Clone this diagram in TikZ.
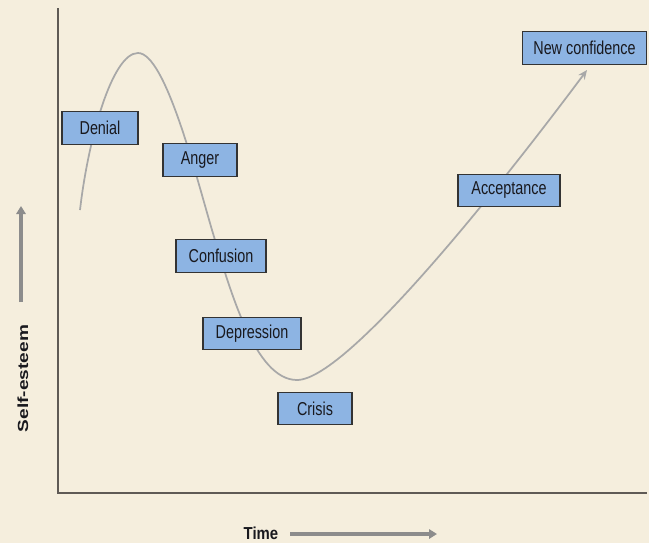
\documentclass[tikz,border=0pt]{standalone}
\usepackage{fontspec}
\setmainfont{Liberation Sans}
\newfontfamily\boxfont[FakeStretch=0.77]{Liberation Sans}
\newfontfamily\timefont[FakeStretch=0.86]{Liberation Sans}
\newfontfamily\selffont[FakeStretch=1.3]{Liberation Sans}
\usetikzlibrary{arrows.meta}
\definecolor{paper}{RGB}{245,238,221}
\definecolor{boxblue}{RGB}{141,180,227}
\definecolor{axisgray}{RGB}{95,90,85}
\definecolor{curvegray}{RGB}{168,168,168}
\definecolor{arrowgray}{RGB}{140,140,140}
\definecolor{textdark}{RGB}{25,25,30}
\tikzset{
  stage/.style={draw=black!80, line width=0.9pt, fill=boxblue, minimum height=24.5pt, inner sep=0pt, text=textdark, font=\boxfont\fontsize{14}{16}\selectfont},
  axisline/.style={draw=axisgray, line width=1.4pt},
  curveline/.style={draw=curvegray, line width=1.3pt},
  dirarrow/.style={draw=arrowgray, line width=2.6pt, -{Triangle[length=6pt,width=7pt]}},
}
\begin{document}
\begin{tikzpicture}[x=0.75pt,y=-0.75pt]
\fill[paper] (0,0) rectangle (649,543);
\useasboundingbox (0,0) rectangle (649,543);
% axes
\coordinate (ytop) at (58,8);
\coordinate (origin) at (58,493);
\coordinate (xend) at (647,493);
\draw[axisline] (ytop) -- (origin) -- (xend);
% curve
\draw[curveline, -{Stealth[length=7pt,width=6pt]}]
  (80,210) .. controls (88,140) and (112,53) .. (138,53)
  .. controls (165,53) and (195,172) .. (212,230)
  .. controls (230,290) and (255,380) .. (297,380)
  .. controls (350,380) and (520,160) .. (587,70);
% boxes
\node[stage, minimum width=57pt] (denial) at (100,128) {Denial};
\node[stage, minimum width=55.5pt] (anger) at (200,160) {Anger};
\node[stage, minimum width=67.5pt] (confusion) at (221,256) {Confusion};
\node[stage, minimum width=73.5pt] (depression) at (252,333.5) {Depression};
\node[stage, minimum width=55.5pt] (crisis) at (315,408.5) {Crisis};
\node[stage, minimum width=76.5pt] (acceptance) at (509,190.5) {Acceptance};
\node[stage, minimum width=93.5pt] (newconf) at (584.5,48) {New confidence};
% axis labels
\node[font=\timefont\bfseries\fontsize{13}{15}\selectfont, text=textdark, inner sep=0pt] (time) at (261,533) {Time};
\coordinate (ta) at (290,534);
\coordinate (tb) at (437,534);
\draw[dirarrow] (ta) -- (tb);
\node[font=\selffont\bfseries\fontsize{11}{13}\selectfont, rotate=90, text=textdark] (self) at (23,378.5) {Self-esteem};
\coordinate (sa) at (21,302);
\coordinate (sb) at (21,206);
\draw[dirarrow] (sa) -- (sb);
\end{tikzpicture}
\end{document}
